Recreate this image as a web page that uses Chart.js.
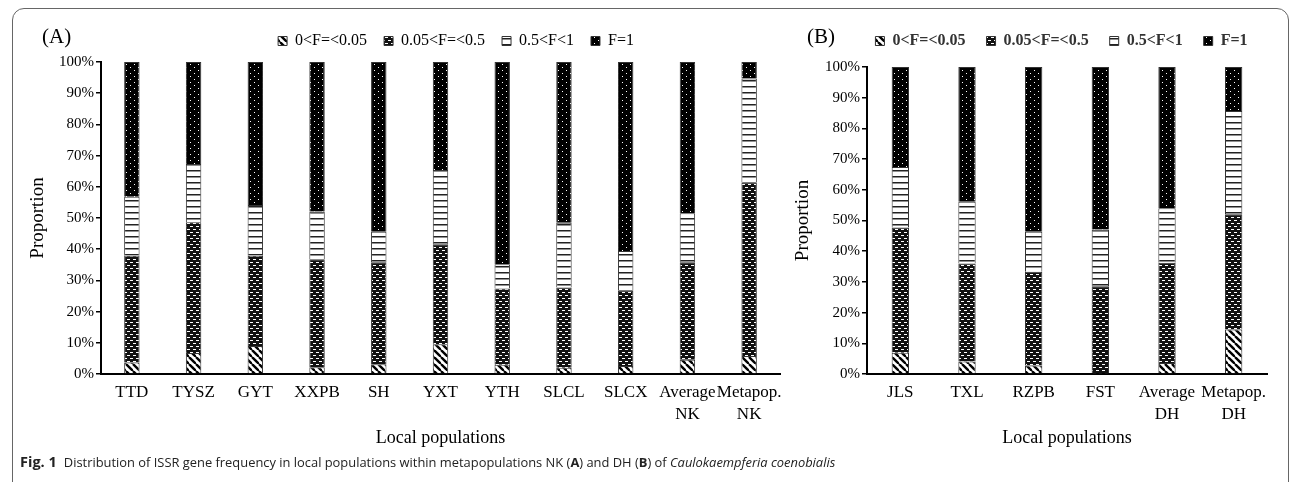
<!DOCTYPE html>
<html>
<head>
<meta charset="utf-8">
<script src="https://cdn.jsdelivr.net/npm/chart.js@4.4.1/dist/chart.umd.min.js"></script>
<style>
  body { margin: 0; background: #fff; width: 1293px; height: 482px; overflow: hidden; position: relative; }
  #frame { position: absolute; left: 12px; top: 8px; width: 1277px; height: 520px; border: 1px solid #666; border-radius: 12px; box-sizing: border-box; }
  .tag { position: absolute; font-family: "Liberation Serif", serif; font-size: 21px; color: #000; }
  #wrapA { position: absolute; left: 0; top: 0; }
  #wrapB { position: absolute; left: 780px; top: 0; }
  #cap { position: absolute; left: 20px; top: 452px; font-family: "Open Sans", sans-serif; font-size: 12.9px; color: #222; white-space: nowrap; }
  #cap .fig { font-size: 14.5px; font-weight: bold; margin-right: 7px; }
</style>
</head>
<body>
<div id="frame"></div>
<div id="wrapA"><canvas id="chartA" width="790" height="460"></canvas></div>
<div id="wrapB"><canvas id="chartB" width="513" height="460"></canvas></div>
<div class="tag" style="left:42px;top:24px">(A)</div>
<div class="tag" style="left:807px;top:24px">(B)</div>
<div id="cap"><span class="fig">Fig. 1</span>Distribution of ISSR gene frequency in local populations within metapopulations NK (<b>A</b>) and DH (<b>B</b>) of <i>Caulokaempferia coenobialis</i></div>
<script>
// categories
const popsNK = ['TTD', 'TYSZ', 'GYT', 'XXPB', 'SH', 'YXT', 'YTH', 'SLCL', 'SLCX', ['Average', 'NK'], ['Metapop.', 'NK']];
const popsDH = ['JLS', 'TXL', 'RZPB', 'FST', ['Average', 'DH'], ['Metapop.', 'DH']];
const classes = ['0<F=<0.05', '0.05<F=<0.5', '0.5<F<1', 'F=1'];

// proportions (%) per frequency class, panel A
const nkLow = [3.7, 6.7, 9.0, 2.2, 3.1, 9.5, 3.0, 2.0, 2.6, 4.6, 5.8];
const nkMid = [34.2, 41.9, 28.9, 34.6, 32.7, 32.1, 24.4, 25.7, 24.1, 31.2, 55.5];
const nkHigh = [18.9, 18.7, 16.3, 15.3, 9.8, 23.8, 7.8, 20.8, 12.7, 15.7, 33.4];
const nkFixed = [43.2, 32.7, 45.8, 47.9, 54.4, 34.6, 64.8, 51.5, 60.6, 48.5, 5.3];

// panel B
const dhLow = [6.9, 4.1, 2.8, 0, 3.6, 14.5];
const dhMid = [40.8, 31.9, 30.5, 28.6, 32.6, 37.5];
const dhHigh = [19.7, 20.1, 13.0, 18.5, 17.8, 33.7];
const dhFixed = [32.6, 43.9, 53.7, 52.9, 46.0, 14.3];

const yTicks = [0, 10, 20, 30, 40, 50, 60, 70, 80, 90, 100];

function makePattern(kind) {
  const c = document.createElement('canvas');
  const g = c.getContext('2d');
  if (kind === 'diag') {
    c.width = 7; c.height = 7;
    g.fillStyle = '#fff'; g.fillRect(0, 0, 7, 7);
    g.strokeStyle = '#000'; g.lineWidth = 2.4;
    for (const o of [-7, 0, 7]) { g.beginPath(); g.moveTo(o, 0); g.lineTo(o + 7, 7); g.stroke(); }
  } else if (kind === 'check') {
    c.width = 6; c.height = 6;
    g.fillStyle = '#111'; g.fillRect(0, 0, 6, 6);
    g.fillStyle = '#fff';
    g.fillRect(1, 1, 3, 1);
    g.fillRect(4, 4, 2, 1); g.fillRect(0, 4, 1, 1);
  } else if (kind === 'hline') {
    c.width = 4; c.height = 6;
    g.fillStyle = '#fff'; g.fillRect(0, 0, 4, 6);
    g.fillStyle = '#222'; g.fillRect(0, 2, 4, 1.5);
  } else {
    c.width = 8; c.height = 6;
    g.fillStyle = '#000'; g.fillRect(0, 0, 8, 6);
    g.fillStyle = '#fff';
    g.fillRect(2, 1, 1, 1); g.fillRect(6, 4, 1, 1);
  }
  return g.createPattern(c, 'repeat');
}

const fills = [makePattern('diag'), makePattern('check'), makePattern('hline'), makePattern('dots')];
const serif = 'Liberation Serif';

// moves the legend after layout (the original sits off-centre and close to the top)
const legendShift = {
  id: 'legendShift',
  afterLayout(chart, args, o) {
    const lg = chart.legend;
    if (!lg) return;
    lg.left += o.dx; lg.right += o.dx;
    lg.top += o.dy; lg.bottom += o.dy;
  }
};

function buildChart(id, labels, series, opts) {
  return new Chart(document.getElementById(id), {
    type: 'bar',
    plugins: [legendShift],
    data: {
      labels: labels,
      datasets: series.map((d, i) => ({
        label: classes[i],
        data: d,
        backgroundColor: fills[i],
        borderColor: '#333',
        borderWidth: 1,
        barPercentage: opts.barPct,
        categoryPercentage: 1
      }))
    },
    options: {
      responsive: false,
      animation: false,
      devicePixelRatio: 1,
      layout: { padding: { left: opts.padLeft, right: opts.padRight, top: opts.padTop, bottom: 0 } },
      plugins: {
        tooltip: { enabled: false },
        legendShift: { dx: opts.legendDx, dy: opts.legendDy },
        legend: {
          position: 'top',
          labels: {
            boxWidth: 9, boxHeight: 9, padding: opts.legendPad,
            color: opts.legendColor,
            font: { family: serif, size: 16, weight: opts.legendWeight }
          }
        }
      },
      scales: {
        x: {
          stacked: true,
          grid: { display: false, drawTicks: false },
          border: { display: true, color: '#000', width: 2 },
          ticks: { color: '#000', padding: 7, maxRotation: 0, autoSkip: false, font: { family: serif, size: 17, lineHeight: 1.3 } },
          title: { display: true, text: 'Local populations', color: '#000', font: { family: serif, size: 18 }, padding: { top: 0, bottom: 11 } },
          afterFit: s => { s.height = 460 - opts.bottom; }
        },
        y: {
          stacked: true,
          min: 0, max: 100,
          afterBuildTicks: s => { s.ticks = yTicks.map(v => ({ value: v })); },
          grid: { display: true, drawOnChartArea: false, drawTicks: true, tickLength: 5, color: '#000', lineWidth: 1.5 },
          border: { display: true, color: '#000', width: 2 },
          ticks: { color: '#000', padding: 2, font: { family: serif, size: 15 }, callback: v => v + '%' },
          title: { display: true, text: 'Proportion', color: '#000', font: { family: serif, size: 19 }, padding: { top: opts.titlePad, bottom: 0 } },
          afterFit: s => { s.width = opts.axisLeft - opts.padLeft; }
        }
      }
    }
  });
}

buildChart('chartA', popsNK, [nkLow, nkMid, nkHigh, nkFixed], {
  barPct: 0.25, padLeft: 20, padRight: 10, padTop: 19, legendPad: 17, legendDx: 56, legendDy: -3,
  axisLeft: 101, bottom: 374, titlePad: 7,
  legendColor: '#000', legendWeight: 'normal'
});
buildChart('chartB', popsDH, [dhLow, dhMid, dhHigh, dhFixed], {
  barPct: 0.26, padLeft: 10, padRight: 26, padTop: 20, legendPad: 21, legendDx: 33, legendDy: -8,
  axisLeft: 87, bottom: 374, titlePad: 2,
  legendColor: '#333', legendWeight: 'bold'
});
</script>
</body>
</html>
